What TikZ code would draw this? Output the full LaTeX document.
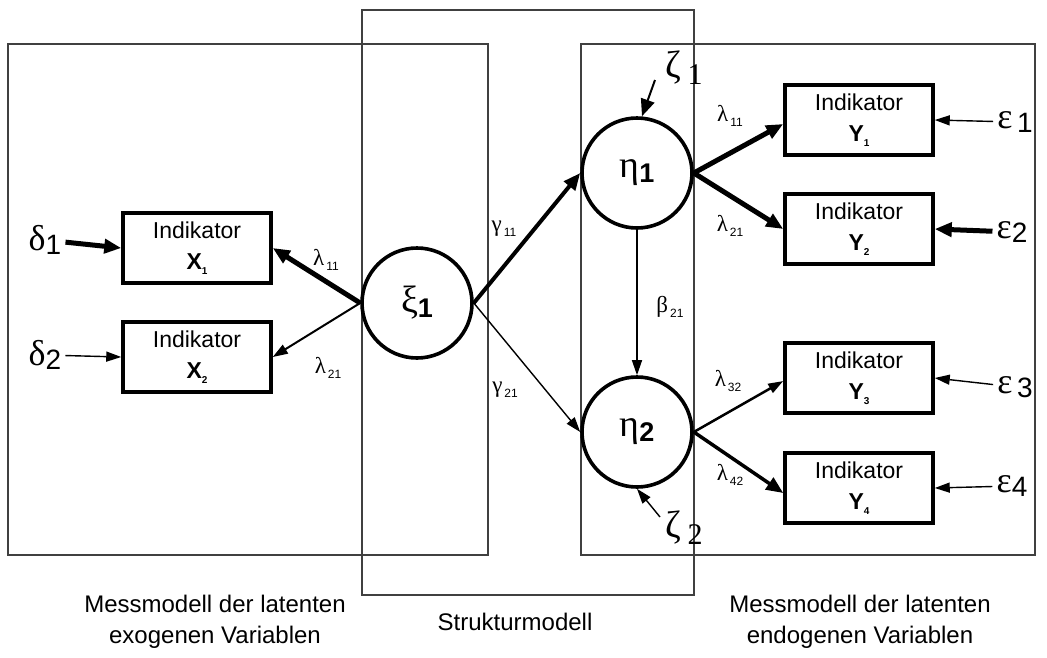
\documentclass[tikz,border=0pt]{standalone}
\usepackage{fontspec}
\setmainfont{Liberation Sans}
\newfontfamily\grk{Liberation Serif}
\newfontfamily\arial{Liberation Sans}
\usetikzlibrary{arrows.meta}

% coefficient: greek letter with a small lowered index
\newcommand\coefsym[2]{{\grk\fontsize{23}{23}\selectfont #1}{\arial\fontsize{12}{12}\selectfont\raisebox{-5pt}{\,#2}}}
% error term: large greek letter with a lowered index
\newcommand\errsym[2]{{\grk\fontsize{36}{36}\selectfont #1}{\arial\fontsize{28}{28}\selectfont\raisebox{-4pt}{#2}}}
% latent variable name
\newcommand\latsym[2]{{\grk\fontsize{38}{38}\selectfont #1}{\arial\bfseries\fontsize{27}{27}\selectfont\raisebox{-5pt}{#2}}}
% indicator name
\newcommand\indsym[2]{\textbf{#1}{\fontsize{10}{10}\selectfont\bfseries\raisebox{-5pt}{#2}}}

\begin{document}
\begin{tikzpicture}[x=1pt,y=-1pt,
  frame/.style={draw=black!75,line width=1.1pt},
  ind/.style={draw,line width=3.5pt,minimum width=148pt,minimum height=70pt,
    inner sep=0pt,align=center,font=\fontsize{23}{31}\selectfont},
  lat/.style={draw,fill=white,circle,line width=3.6pt,minimum size=110pt,inner sep=0pt},
  heavy/.style={line width=5pt,-{Triangle[length=17pt,width=14pt]}},
  light/.style={line width=1.4pt,-{Triangle[length=15pt,width=10pt]}},
  lab/.style={inner sep=0pt},
  errlab/.style={inner sep=4pt},
  caption/.style={font=\fontsize{24}{31}\selectfont,align=center}
]
\useasboundingbox (0,0) rectangle (1047,657);

% the three model regions
\draw[frame] (8,44) rectangle (488,555);
\draw[frame] (362,10) rectangle (694,595);
\draw[frame] (581,44) rectangle (1035,555);

% indicators
\node[ind] (x1) at (197,248) {Indikator\\\indsym{X}{1}};
\node[ind] (x2) at (197,357) {Indikator\\\indsym{X}{2}};
\node[ind] (y1) at (859,120) {Indikator\\\indsym{Y}{1}};
\node[ind] (y2) at (859,229) {Indikator\\\indsym{Y}{2}};
\node[ind] (y3) at (859,378) {Indikator\\\indsym{Y}{3}};
\node[ind] (y4) at (859,488) {Indikator\\\indsym{Y}{4}};

% latent variables
\node[lat] (xi)   at (417,303) {\latsym{ξ}{1}};
\node[lat] (eta1) at (637,173) {\latsym{η}{1}};
\node[lat] (eta2) at (637,432) {\latsym{η}{2}};

% error terms
\node[errlab] (d1) at (45,240) {\errsym{δ}{1}};
\node[errlab] (d2) at (45,355) {\errsym{δ}{2}};
\node[errlab] (e1) at (1015,122) {\errsym{ε}{\,1}};
\node[errlab] (e2) at (1012,232) {\errsym{ε}{2}};
\node[errlab] (e3) at (1015,387) {\errsym{ε}{\,3}};
\node[errlab] (e4) at (1012,486) {\errsym{ε}{4}};
\node[lab] (z1) at (684,68) {{\grk\fontsize{38}{38}\selectfont ζ\,\raisebox{-7pt}{\fontsize{30}{30}\selectfont 1}}};
\node[lab] (z2) at (684,528) {{\grk\fontsize{38}{38}\selectfont ζ\,\raisebox{-7pt}{\fontsize{30}{30}\selectfont 2}}};
\coordinate (z1end) at (655,80);
\coordinate (z2end) at (660,517);

% path coefficients
\node[lab] (l11a) at (326,260) {\coefsym{λ}{11}};
\node[lab] (l21a) at (328,368) {\coefsym{λ}{21}};
\node[lab] (g11)  at (504,229) {\coefsym{γ}{11}};
\node[lab] (g21)  at (505,390) {\coefsym{γ}{21}};
\node[lab] (b21)  at (670,307) {\coefsym{β}{21}};
\node[lab] (l11b) at (730,116) {\coefsym{λ}{11}};
\node[lab] (l21b) at (730,226) {\coefsym{λ}{21}};
\node[lab] (l32)  at (728,381) {\coefsym{λ}{32}};
\node[lab] (l42)  at (730,475) {\coefsym{λ}{42}};

% measurement model, exogenous side
\draw[heavy] (d1) -- (x1.west);
\draw[light] (d2) -- (x2.west);
\draw[heavy] (xi.west) -- (x1.east);
\draw[light,line width=2pt] (xi.west) -- (x2.east);

% structural model
\draw[heavy,line width=4pt] (xi.east) -- (eta1.west);
\draw[light] (xi.east) -- (eta2.west);
\draw[light] (eta1.south) -- (eta2.north);
\draw[heavy,line width=2pt] (z1end) -- ([xshift=5pt]eta1.north);
\draw[light] (z2end) -- (eta2.south);

% measurement model, endogenous side
\draw[heavy] (eta1.east) -- ([yshift=-4pt]y1.west);
\draw[heavy] (eta1.east) -- (y2.west);
\draw[light,line width=2.5pt] (eta2.east) -- ([yshift=-3pt]y3.west);
\draw[heavy,line width=3.5pt] (eta2.east) -- ([yshift=-5pt]y4.west);
\draw[light] (e1) -- (y1.east);
\draw[heavy] (e2) -- (y2.east);
\draw[light] (e3) -- (y3.east);
\draw[light] (e4) -- (y4.east);

% captions
\node[caption] (capx) at (215,622) {Messmodell der latenten\\exogenen Variablen};
\node[caption] (caps) at (515,622) {Strukturmodell};
\node[caption] (capy) at (860,622) {Messmodell der latenten\\endogenen Variablen};
\end{tikzpicture}
\end{document}
